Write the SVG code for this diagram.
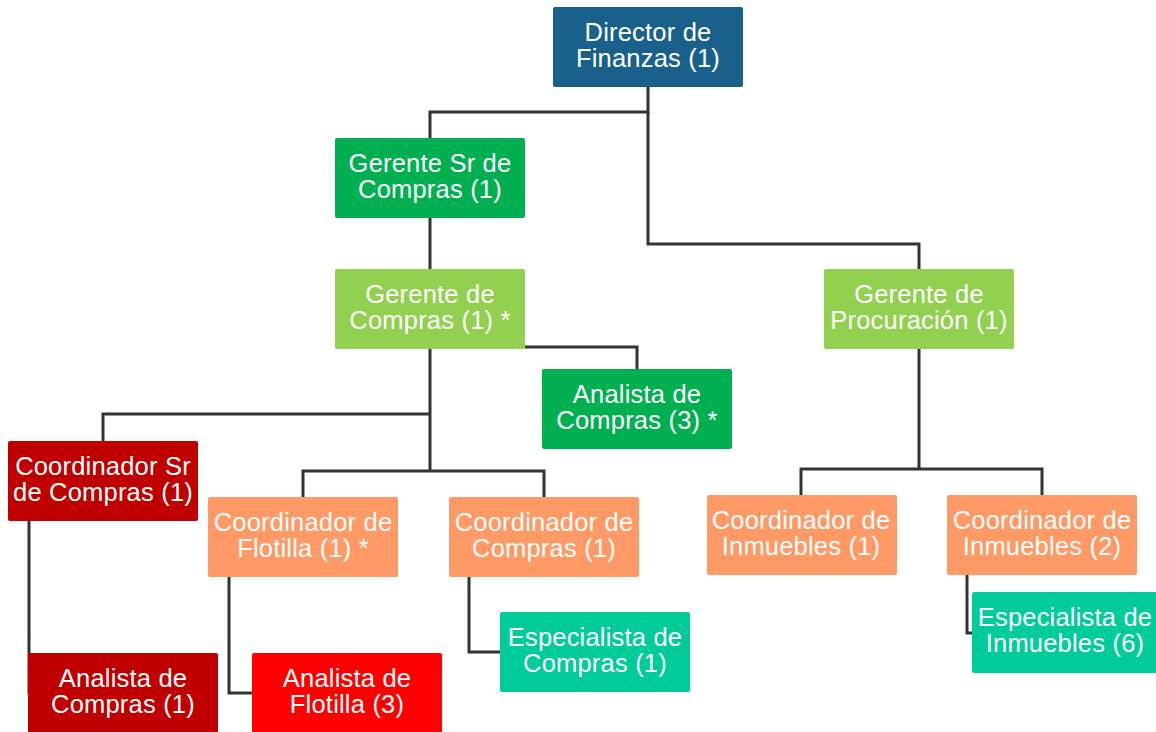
<svg xmlns="http://www.w3.org/2000/svg" width="1156" height="732" viewBox="0 0 1156 732">
<style>
.box{rx:2;ry:2}
.t{font-family:"Liberation Sans",Arial,sans-serif;font-size:25.5px;letter-spacing:0.2px;fill:#ffffff;text-anchor:middle}
.c{fill:none;stroke:#333333;stroke-width:3;stroke-linejoin:miter}
.blue{fill:#19618A}.green{fill:#00B050}.lgreen{fill:#92D050}.dred{fill:#C00000}.red{fill:#FF0000}.orange{fill:#FF9966}.teal{fill:#00CC99}
</style>
<rect width="1156" height="732" fill="#ffffff"/>
<g id="connectors">
<path class="c" d="M648 87V112H430V138"/>
<path class="c" d="M648 112V244H919V269"/>
<path class="c" d="M430 218V269"/>
<path class="c" d="M525 347H637V370"/>
<path class="c" d="M430 349V471"/>
<path class="c" d="M430 414H103V441"/>
<path class="c" d="M303 497V471H544V497"/>
<path class="c" d="M29 521V693H40"/>
<path class="c" d="M229 577V693H252"/>
<path class="c" d="M469 577V652H500"/>
<path class="c" d="M919 349V469"/>
<path class="c" d="M801 495V469H1042V495"/>
<path class="c" d="M967 575V633H972"/>
</g>
<g id="n1"><rect class="box blue" x="553" y="7" width="190" height="80"/><text class="t" x="648" y="41">Director de</text><text class="t" x="648" y="67">Finanzas (1)</text></g>
<g id="n2"><rect class="box green" x="335" y="138" width="190" height="80"/><text class="t" x="430" y="172">Gerente Sr de</text><text class="t" x="430" y="198">Compras (1)</text></g>
<g id="n3"><rect class="box lgreen" x="335" y="269" width="190" height="80"/><text class="t" x="430" y="303">Gerente de</text><text class="t" x="430" y="329">Compras (1) *</text></g>
<g id="n4"><rect class="box lgreen" x="824" y="269" width="190" height="80"/><text class="t" x="919" y="303">Gerente de</text><text class="t" x="919" y="329">Procuración (1)</text></g>
<g id="n5"><rect class="box green" x="542" y="369" width="190" height="80"/><text class="t" x="637" y="403">Analista de</text><text class="t" x="637" y="429">Compras (3) *</text></g>
<g id="n6"><rect class="box dred" x="8" y="441" width="190" height="80"/><text class="t" x="103" y="475">Coordinador Sr</text><text class="t" x="103" y="501">de Compras (1)</text></g>
<g id="n7"><rect class="box orange" x="208" y="497" width="190" height="80"/><text class="t" x="303" y="531">Coordinador de</text><text class="t" x="303" y="557">Flotilla (1) *</text></g>
<g id="n8"><rect class="box orange" x="449" y="497" width="190" height="80"/><text class="t" x="544" y="531">Coordinador de</text><text class="t" x="544" y="557">Compras (1)</text></g>
<g id="n9"><rect class="box orange" x="707" y="495" width="190" height="80"/><text class="t" x="801" y="529">Coordinador de</text><text class="t" x="801" y="555">Inmuebles (1)</text></g>
<g id="n10"><rect class="box orange" x="947" y="495" width="190" height="80"/><text class="t" x="1042" y="529">Coordinador de</text><text class="t" x="1042" y="555">Inmuebles (2)</text></g>
<g id="n11"><rect class="box teal" x="500" y="612" width="190" height="80"/><text class="t" x="595" y="646">Especialista de</text><text class="t" x="595" y="672">Compras (1)</text></g>
<g id="n12"><rect class="box teal" x="972" y="592" width="190" height="81"/><text class="t" x="1065" y="626">Especialista de</text><text class="t" x="1065" y="652">Inmuebles (6)</text></g>
<g id="n13"><rect class="box dred" x="28" y="653" width="190" height="85"/><text class="t" x="123" y="687">Analista de</text><text class="t" x="123" y="713">Compras (1)</text></g>
<g id="n14"><rect class="box red" x="252" y="653" width="190" height="85"/><text class="t" x="347" y="687">Analista de</text><text class="t" x="347" y="713">Flotilla (3)</text></g>
</svg>
